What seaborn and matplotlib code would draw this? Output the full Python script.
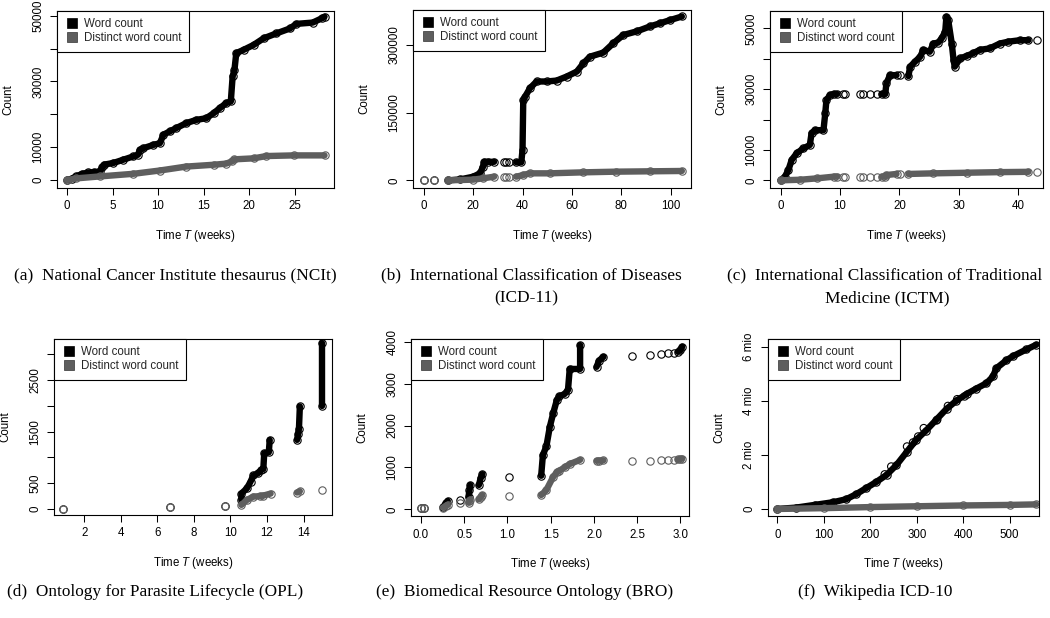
import numpy as np
import pandas as pd
import matplotlib
matplotlib.use("Agg")
import matplotlib.pyplot as plt
import seaborn as sns
from matplotlib.lines import Line2D

sns.set_theme(style="white")
plt.rcParams['font.family'] = ['Liberation Sans', 'DejaVu Sans']
plt.rcParams['mathtext.fontset'] = 'custom'
plt.rcParams['mathtext.it'] = 'Liberation Sans:italic'
plt.rcParams['mathtext.rm'] = 'Liberation Sans'

nan = np.nan

# ---------------- data (NaN = gap between separate observations) ----------------
# (a) NCIt
a_word_x = [0, 0.5, 1.0, 1.6, 2.3, 3.0, 3.6, 3.9, 4.1, 5.1, 6.2, 7.3, 7.8, 8.0, 8.4, 9.5, 10.2, 10.6, 11.3,
            12.0, 13.1, 14.2, 15.3, 16.1, 16.8, 17.5, 18.0, 18.2, 18.4, 18.6, 19.4, 20.5, 21.6, 23.0, 24.5,
            25.2, 27.0, 28.0, 28.3]
a_word_y = [0, 400, 1100, 1800, 2300, 2400, 2600, 4000, 4700, 5200, 6200, 7200, 7700, 9200, 9700, 10700,
            11200, 13800, 14800, 15800, 17300, 18300, 18800, 20300, 21900, 23400, 23900, 31500, 33500, 38600,
            39600, 41100, 43100, 44600, 46100, 47500, 47900, 49200, 49700]
a_dist_x = [0, 1.0, 3.6, 7.3, 10.2, 13.1, 16.1, 17.5, 18.1, 18.4, 20.5, 21.9, 24.9, 28.3]
a_dist_y = [0, 500, 1100, 1900, 2900, 4100, 4650, 5000, 5650, 6300, 6600, 7300, 7500, 7500]

# (b) ICD-11
b_word_x = [0, nan, 4, nan, 10, 14.7, 20, 22.8, 24.0, 24.5, 26, 28.5, nan, 32.5, nan, 33.5, nan, 34.5, nan,
            37.5, 39.5, 40.0, 40.3, 41, 43, 45.7, 49.8, 53.8, 57.9, 62, 64.6, 67.3, 72.7, 76.8, 80.8, 86.2,
            91.6, 95.7, 99.7, 104.5]
b_word_y = [0, nan, 0, nan, 0, 2000, 8000, 15500, 30000, 41000, 41000, 41000, nan, 40000, nan, 40000, nan,
            40000, nan, 40000, 40000, 67000, 178000, 185000, 204000, 219000, 219000, 221000, 230000, 241000,
            259000, 274000, 283000, 304000, 322000, 330000, 341000, 348000, 355000, 363000]
b_dist_x = [0, nan, 4, nan, 10, 20, 24, 28.5, nan, 32.5, nan, 33.5, nan, 34.5, nan, 37.5, 40.3, 43, 51,
            64.6, 78, 91.6, 104.5]
b_dist_y = [0, nan, 0, nan, 0, 1500, 4400, 8100, nan, 7000, nan, 7000, nan, 7000, nan, 8000, 11800, 15500,
            15500, 17700, 19200, 20000, 20700]

# (c) ICTM
c_word_x = [0, 0.7, 1.3, 1.85, 2.7, 3.8, 4.9, 5.2, 5.8, 7.2, 7.5, 7.7, 8.3, 8.9, 9.5, nan, 10.5, nan, 10.9,
            nan, 13.4, nan, 13.9, nan, 15.0, nan, 16.2, nan, 17.0, 17.6, 17.8, 18.4, 19.5, nan, 20.1, nan,
            21.5, 21.8, 22.6, 23.5, 24.0, 25.1, 25.7, 26.5, 27.1, 27.7, 27.9, 28.2, 28.8, 29.1, 29.3, 30.2,
            31.3, 32.4, 33.5, 35.2, 36.9, 38.3, 40.3, 41.7, nan, 43.2]
c_word_y = [0, 1200, 3400, 6700, 8900, 10500, 11600, 15500, 16500, 16500, 22000, 26400, 28000, 28400, 28400,
            nan, 28400, nan, 28400, nan, 28400, nan, 28400, nan, 28400, nan, 28400, nan, 28400, 28400, 31900,
            34600, 34600, nan, 34600, nan, 34300, 37400, 39000, 40700, 42900, 42300, 45000, 45300, 46700,
            48900, 53800, 52700, 45000, 39600, 37400, 40100, 40900, 41800, 42900, 43400, 45000, 45600, 46100,
            46100, nan, 46100]
c_dist_x = [0, 3.3, 6.1, 8.9, 9.5, nan, 10.5, nan, 10.9, nan, 13.4, nan, 13.9, nan, 15.0, nan, 16.2, nan,
            17.0, 17.6, 17.8, 19.5, nan, 20.1, nan, 21.5, 25.7, 31.3, 36.9, 41.7, nan, 43.2]
c_dist_y = [0, 200, 650, 1200, 1200, nan, 1200, nan, 1200, nan, 1200, nan, 1200, nan, 1200, nan, 1200, nan,
            1200, 1200, 1750, 2100, nan, 2100, nan, 2100, 2300, 2500, 2700, 2800, nan, 2800]

# (d) OPL
d_word_x = [0.85, nan, 6.7, nan, 9.7, nan, 10.6, 10.6, 10.9, 11.1, 11.25, 11.5, 11.7, 11.8, 11.85, 12.1,
            12.15, nan, 13.65, 13.7, 13.75, 13.8, nan, 15.0, 15.0]
d_word_y = [0, nan, 30, nan, 60, nan, 175, 300, 400, 530, 650, 690, 760, 780, 1080, 1100, 1340, nan, 1340,
            1450, 1550, 1990, nan, 2000, 3220]
d_dist_x = [0.85, nan, 6.7, nan, 9.7, nan, 10.6, 10.9, 11.25, 11.6, 11.8, 12.2, nan, 13.65, 13.8, nan, 15.0]
d_dist_y = [0, nan, 30, nan, 60, nan, 80, 175, 240, 250, 260, 300, nan, 320, 345, nan, 370]

# (e) BRO
e_word_x = [0.0, nan, 0.04, nan, 0.26, 0.29, 0.31, nan, 0.45, nan, 0.55, 0.56, 0.57, nan, 0.67, 0.69, 0.71,
            nan, 1.02, nan, 1.39, 1.41, 1.45, 1.49, 1.53, 1.57, 1.60, 1.66, 1.70, 1.72, 1.84, 1.84, nan,
            2.03, 2.06, 2.11, nan, 2.44, nan, 2.65, nan, 2.78, nan, 2.86, nan, 2.92, nan, 2.97, 3.0, 3.02]
e_word_y = [25, nan, 25, nan, 60, 150, 200, nan, 220, nan, 300, 450, 580, nan, 580, 740, 840, nan, 780, nan,
            800, 1300, 1500, 1970, 2300, 2600, 2700, 2750, 2850, 3350, 3350, 3920, nan, 3400, 3550, 3640,
            nan, 3660, nan, 3680, nan, 3700, nan, 3720, nan, 3740, nan, 3760, 3800, 3880]
e_dist_x = [0.0, nan, 0.04, nan, 0.26, 0.29, 0.31, nan, 0.45, nan, 0.55, 0.56, 0.57, nan, 0.67, 0.69, 0.71,
            nan, 1.02, nan, 1.39, 1.45, 1.53, 1.57, 1.60, 1.66, 1.72, 1.84, nan, 2.03, 2.06, 2.11, nan, 2.44,
            nan, 2.65, nan, 2.78, nan, 2.86, nan, 2.92, nan, 2.97, 3.0, 3.02]
e_dist_y = [25, nan, 25, nan, 40, 80, 110, nan, 140, nan, 160, 200, 230, nan, 240, 300, 340, nan, 320, nan,
            340, 460, 780, 880, 920, 1000, 1080, 1180, nan, 1160, 1160, 1170, nan, 1160, nan, 1160, nan,
            1165, nan, 1170, nan, 1180, nan, 1190, 1200, 1210]

# (f) Wikipedia ICD-10
f_word_x = [0, 40, 80, 120, 148, 170, 191, 213, 235, 256, 278, 299, 320, 342, 364, 385, 407, 428, 450, 464,
            471, 493, 507, 536, 557]
f_word_y = [0, 50000, 150000, 250000, 360000, 550000, 770000, 1000000, 1260000, 1620000, 2100000, 2560000,
            2900000, 3300000, 3700000, 4000000, 4250000, 4450000, 4650000, 4900000, 5200000, 5500000,
            5650000, 5900000, 6070000]
f_word_out_x = [231, 245, 279, 292, 303, 315, 344, 367, 387, 403]
f_word_out_y = [1280000, 1570000, 2310000, 2460000, 2680000, 2990000, 3300000, 3810000, 4060000, 4160000]
f_dist_x = [0, 100, 200, 300, 400, 500, 557]
f_dist_y = [0, 30000, 70000, 100000, 130000, 150000, 170000]

legend_labels = ["Word count", "Distinct word count"]
captions = [
    ["(a)  National Cancer Institute thesaurus (NCIt)"],
    ["(b)  International Classification of Diseases", "(ICD-11)"],
    ["(c)  International Classification of Traditional", "Medicine (ICTM)"],
    ["(d)  Ontology for Parasite Lifecycle (OPL)"],
    ["(e)  Biomedical Resource Ontology (BRO)"],
    ["(f)  Wikipedia ICD-10"],
]

# ---------------- styling ----------------
BLACK = "#000000"
GRAY = "#5e5e5e"
FS = 8.3
CAP_FS = 12.4
W, H = 1050, 618

fig = plt.figure(figsize=(W / 100, H / 100), dpi=100)


def add_axes_px(left, top, right, bottom):
    return fig.add_axes([left / W, 1 - bottom / H, (right - left) / W, (bottom - top) / H])


def frame(x, y):
    x = np.asarray(x, float)
    y = np.asarray(y, float)
    seg = np.cumsum(np.isnan(x))
    return pd.DataFrame({"x": x, "y": y, "seg": seg}).dropna()


def draw_series(ax, x, y, color):
    df = frame(x, y)
    sns.lineplot(data=df, x="x", y="y", units="seg", estimator=None, sort=False, ax=ax, legend=False,
                 color=color, lw=4.6, solid_capstyle="round", solid_joinstyle="round",
                 marker="o", markersize=5.3, markerfacecolor="none", markeredgecolor=color,
                 markeredgewidth=0.8)


def style_axes(ax, xlim, ylim, xticks, xlabels, yticks, ylabels):
    ax.set_xlim(*xlim)
    ax.set_ylim(*ylim)
    ax.set_xticks(xticks)
    ax.set_xticklabels(xlabels)
    ax.set_yticks(yticks)
    ax.set_yticklabels(ylabels, rotation=90, va="center")
    ax.tick_params(axis="both", direction="out", length=5, width=0.75, color="black",
                   labelsize=FS, pad=4, bottom=True, left=True, labelcolor="black")
    for sp in ax.spines.values():
        sp.set_visible(True)
        sp.set_color("black")
        sp.set_linewidth(0.8)
    ax.set_xlabel(r"Time $T$ (weeks)", fontsize=FS, labelpad=11, color="black")
    ax.set_ylabel("Count", fontsize=FS, labelpad=13, color="black")
    handles = [Line2D([], [], ls="none", marker="s", markersize=6.5, markerfacecolor=BLACK,
                      markeredgecolor=BLACK, markeredgewidth=0.5),
               Line2D([], [], ls="none", marker="s", markersize=6.5, markerfacecolor=GRAY,
                      markeredgecolor="#333333", markeredgewidth=0.5)]
    leg = ax.legend(handles, legend_labels, loc="upper left", bbox_to_anchor=(0, 1), borderaxespad=0,
                    frameon=True, fancybox=False, edgecolor="black", framealpha=1, fontsize=FS,
                    handlelength=1.4, handletextpad=0.35, borderpad=0.62, labelspacing=0.2)
    leg.get_frame().set_linewidth(0.8)


panels = [
    # (left, top, right, bottom), data, xlim, ylim, xticks, xlabels, yticks, ylabels
    ((57, 11, 334, 188), (a_word_x, a_word_y, a_dist_x, a_dist_y), (-1.10, 29.34), (-2420, 51420),
     [0, 5, 10, 15, 20, 25], ["0", "5", "10", "15", "20", "25"],
     [0, 10000, 20000, 30000, 40000, 50000], ["0", "10000", "", "30000", "", "50000"]),
    ((413, 10, 691, 188), (b_word_x, b_word_y, b_dist_x, b_dist_y), (-4.33, 108.2), (-17000, 377400),
     [0, 20, 40, 60, 80, 100], ["0", "20", "40", "60", "80", "100"],
     [0, 150000, 300000], ["0", "150000", "300000"]),
    ((770, 11, 1043, 188), (c_word_x, c_word_y, c_dist_x, c_dist_y), (-1.8, 44.16), (-2520, 55700),
     [0, 10, 20, 30, 40], ["0", "10", "20", "30", "40"],
     [0, 10000, 20000, 30000, 40000, 50000], ["0", "10000", "", "30000", "", "50000"]),
    ((54, 339, 332, 515), (d_word_x, d_word_y, d_dist_x, d_dist_y), (0.34, 15.56), (-116, 3296),
     [2, 4, 6, 8, 10, 12, 14], ["2", "4", "6", "8", "10", "12", "14"],
     [0, 500, 1000, 1500, 2000, 2500, 3000], ["0", "500", "", "1500", "", "2500", ""]),
    ((411, 339, 689, 516), (e_word_x, e_word_y, e_dist_x, e_dist_y), (-0.115, 3.099), (-160, 4065),
     [0.0, 0.5, 1.0, 1.5, 2.0, 2.5, 3.0], ["0.0", "0.5", "1.0", "1.5", "2.0", "2.5", "3.0"],
     [0, 1000, 2000, 3000, 4000], ["0", "1000", "2000", "3000", "4000"]),
    ((768, 339, 1039, 516), (f_word_x, f_word_y, f_dist_x, f_dist_y), (-20.2, 563), (-260000, 6285000),
     [0, 100, 200, 300, 400, 500], ["0", "100", "200", "300", "400", "500"],
     [0, 2000000, 4000000, 6000000], ["0", "2 mio", "4 mio", "6 mio"]),
]

for i, (box, (wx, wy, dx, dy), xlim, ylim, xt, xl, yt, yl) in enumerate(panels):
    ax = add_axes_px(*box)
    draw_series(ax, wx, wy, BLACK)
    if i == 5:
        sns.scatterplot(x=f_word_out_x, y=f_word_out_y, ax=ax, marker="o", s=28, facecolor="none",
                        edgecolor=BLACK, linewidth=0.8, legend=False)
    draw_series(ax, dx, dy, GRAY)
    style_axes(ax, xlim, ylim, xt, xl, yt, yl)

# captions
cap_pos = [(175, 275), (531, 275), (885, 275), (155, 592), (525, 592), (875, 592)]
cap_line2 = [None, 526, 887, None, None, None]
serif = ["Liberation Serif", "DejaVu Serif"]
for i, lines in enumerate(captions):
    x, y = cap_pos[i]
    fig.text(x / W, 1 - y / H, lines[0], ha="center", va="center", fontsize=CAP_FS,
             family=serif, color="black")
    if len(lines) > 1:
        fig.text(cap_line2[i] / W, 1 - (y + 23) / H, lines[1], ha="center", va="center",
                 fontsize=CAP_FS, family=serif, color="black")

fig.savefig("out.png", dpi=100, facecolor="white")
